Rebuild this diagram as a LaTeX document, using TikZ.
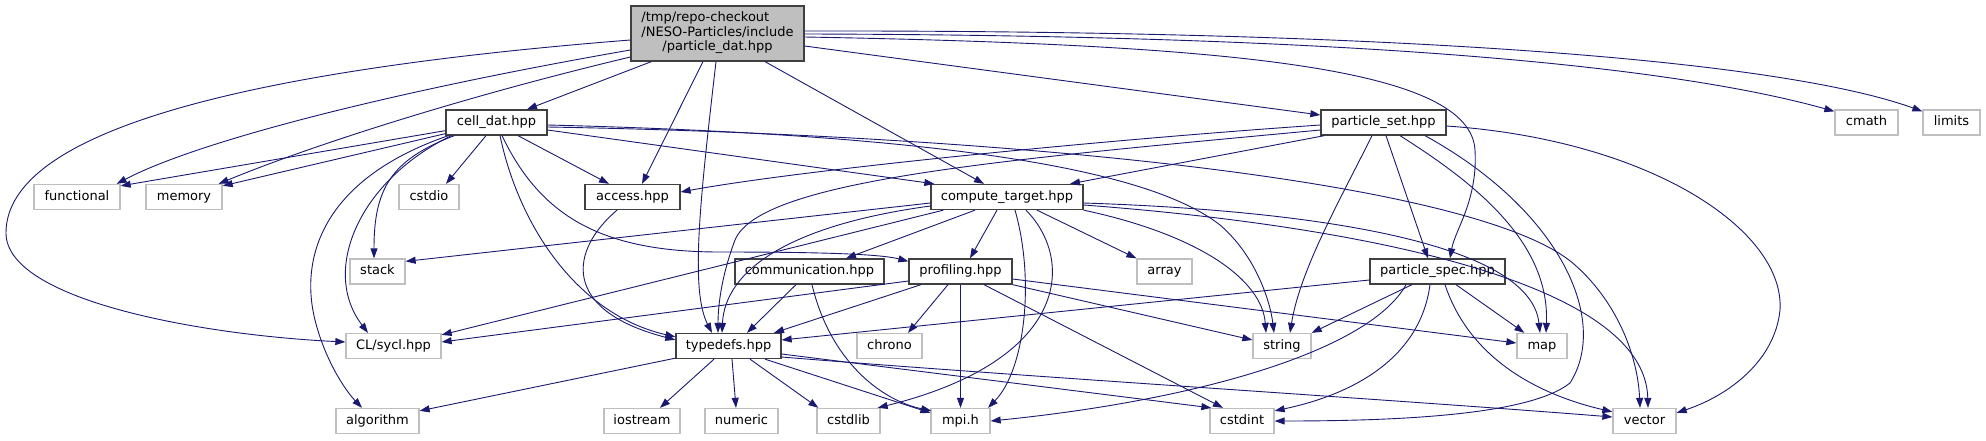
\documentclass[tikz,border=0pt]{standalone}
\usepackage{fontspec}
\setmainfont{DejaVu Sans}
\usetikzlibrary{arrows.meta,calc}
\definecolor{edgeblue}{HTML}{191970}
\definecolor{greyl}{HTML}{BFBFBF}
\definecolor{docborder}{HTML}{404040}
\begin{document}
\begin{tikzpicture}[x=1pt,y=-1pt,
  lbl/.style={inner sep=0pt,minimum height=25pt,font=\fontsize{13}{15}\selectfont,text height=9.5pt,text depth=3pt,line width=1.3pt},
  docnode/.style={lbl,draw=docborder,fill=white},
  sysnode/.style={lbl,draw=greyl,fill=white},
  rootnode/.style={inner sep=0pt,minimum width=173pt,minimum height=55pt,draw=docborder,fill=greyl,line width=1.3pt,font=\fontsize{13}{14.5}\selectfont},
  edge/.style={draw=edgeblue,line width=0.9pt,-{Triangle[length=10pt,width=7pt]}}
]
\useasboundingbox (0,0) rectangle (1986,440);
% nodes
\node[rootnode] (root) at (717.5,33.5) {\begin{tabular}{@{}l@{}}/tmp/repo-checkout\\/NESO-Particles/include\\\multicolumn{1}{@{}c@{}}{/particle\_dat.hpp}\end{tabular}};
\node[docnode,minimum width=101pt] (cell) at (496.5,122.5) {cell\_dat.hpp};
\node[docnode,minimum width=125pt] (pset) at (1383.5,122.5) {particle\_set.hpp};
\node[sysnode,minimum width=63pt] (cmath) at (1866.5,122.5) {cmath};
\node[sysnode,minimum width=57pt] (limits) at (1951.5,122.5) {limits};
\node[sysnode,minimum width=86pt] (functional) at (77,197) {functional};
\node[sysnode,minimum width=76pt] (memory) at (184,197) {memory};
\node[sysnode,minimum width=60pt] (cstdio) at (429,197) {cstdio};
\node[docnode,minimum width=95pt] (access) at (632.5,197) {access.hpp};
\node[docnode,minimum width=152pt] (ctarget) at (1007,197) {compute\_target.hpp};
\node[sysnode,minimum width=55pt] (stack) at (377.5,271.5) {stack};
\node[docnode,minimum width=149pt] (comm) at (809.5,271.5) {communication.hpp};
\node[docnode,minimum width=103pt] (prof) at (960.5,271.5) {profiling.hpp};
\node[sysnode,minimum width=55pt] (array) at (1164.5,271.5) {array};
\node[docnode,minimum width=135pt] (pspec) at (1437.5,271.5) {particle\_spec.hpp};
\node[sysnode,minimum width=95pt] (sycl) at (393.5,346) {CL/sycl.hpp};
\node[docnode,minimum width=105pt] (typedefs) at (728.5,346) {typedefs.hpp};
\node[sysnode,minimum width=65pt] (chrono) at (889.5,346) {chrono};
\node[sysnode,minimum width=58pt] (string) at (1282,346) {string};
\node[sysnode,minimum width=50pt] (map) at (1542,346) {map};
\node[sysnode,minimum width=83pt] (algorithm) at (377.5,421) {algorithm};
\node[sysnode,minimum width=76pt] (iostream) at (642,421) {iostream};
\node[sysnode,minimum width=73pt] (numeric) at (741.5,421) {numeric};
\node[sysnode,minimum width=63pt] (cstdlib) at (848.5,421) {cstdlib};
\node[sysnode,minimum width=59pt] (mpih) at (960.5,421) {mpi.h};
\node[sysnode,minimum width=64pt] (cstdint) at (1242,421) {cstdint};
\node[sysnode,minimum width=63pt] (vector) at (1644.5,421) {vector};
% root edges
\draw[edge] ($(root.west)+(0,6.5)$) .. controls (250,70) and (6,130) .. (6,233) .. controls (6,300) and (200,335) .. ($(sycl.west)+(0,-4)$);
\draw[edge] ($(root.west)+(0,16.5)$) .. controls (400,90) and (200,140) .. ($(functional.north east)+(-4,0)$);
\draw[edge] ($(root.west)+(0,23.5)$) .. controls (450,100) and (300,150) .. ($(memory.north east)+(-4,0)$);
\draw[edge] ($(root.south west)+(21,0)$) -- ($(cell.north)+(30.5,0)$);
\draw[edge] ($(root.south)+(-14.5,0)$) -- ($(access.north)+(9.5,0)$);
\draw[edge] ($(root.south)+(-1.5,0)$) .. controls (700,200) and (690,290) .. ($(typedefs.north)+(-16.5,0)$);
\draw[edge] ($(root.south)+(47.5,0)$) -- ($(ctarget.north)+(-23,0)$);
\draw[edge] ($(root.east)+(0,12.5)$) -- ($(pset.west)+(0,-7.5)$);
\draw[edge] ($(root.east)+(0,3.5)$) .. controls (1250,45) and (1470,70) .. (1475,150) .. controls (1478,200) and (1455,230) .. ($(pspec.north)+(12.5,0)$);
\draw[edge] ($(root.east)+(0,0.5)$) .. controls (1300,35) and (1650,60) .. ($(cmath.north west)+(0,2)$);
\draw[edge] ($(root.east)+(0,-2.5)$) .. controls (1400,30) and (1780,60) .. ($(limits.north west)+(0,2)$);
% cell_dat edges
\draw[edge] ($(cell.south west)+(0,-5)$) -- ($(functional.north east)+(0,2)$);
\draw[edge] ($(cell.south west)+(0,-2)$) -- ($(memory.north east)+(0,2)$);
\draw[edge] ($(cell.south)+(-10.5,0)$) -- ($(cstdio.north)+(17,0)$);
\draw[edge] ($(cell.south)+(21.5,0)$) -- ($(access.north)+(-23.5,0)$);
\draw[edge] ($(cell.east)+(0,7.5)$) -- ($(ctarget.north west)+(4,0)$);
\draw[edge] ($(cell.south)+(5.5,0)$) .. controls (540,215) and (600,252) .. (720,252) .. controls (820,252) and (880,254) .. ($(prof.north west)+(0,3)$);
\draw[edge] ($(cell.south)+(3.5,0)$) .. controls (520,230) and (580,315) .. ($(typedefs.north west)+(0,4)$);
\draw[edge] ($(cell.south west)+(9,0)$) .. controls (390,160) and (374,190) .. ($(stack.north)+(-3.5,0)$);
\draw[edge] ($(cell.south west)+(6,0)$) .. controls (360,180) and (320,270) .. ($(sycl.north)+(-25.5,0)$);
\draw[edge] ($(cell.south west)+(3,0)$) .. controls (320,180) and (300,260) .. (315,320) .. controls (325,360) and (345,390) .. ($(algorithm.north)+(-15.5,0)$);
\draw[edge] ($(cell.east)+(0,2.5)$) .. controls (950,135) and (1150,170) .. (1220,225) .. controls (1255,255) and (1270,300) .. ($(string.north)+(-8,0)$);
\draw[edge] ($(cell.east)+(0,4.5)$) .. controls (1000,135) and (1480,180) .. (1575,265) .. controls (1620,305) and (1638,360) .. ($(vector.north)+(-4.5,0)$);
% access
\draw[edge] ($(access.south)+(-15.5,0)$) .. controls (570,250) and (560,310) .. ($(typedefs.north west)+(0,7)$);
% particle_set edges
\draw[edge] ($(pset.west)+(0,2.5)$) .. controls (1100,140) and (800,170) .. ($(access.east)+(0,-5)$);
\draw[edge] ($(pset.west)+(0,7.5)$) .. controls (1000,160) and (760,180) .. (735,240) .. controls (720,280) and (718,310) .. ($(typedefs.north)+(-10.5,0)$);
\draw[edge] ($(pset.south west)+(4,0)$) -- ($(ctarget.north)+(63,0)$);
\draw[edge] ($(pset.south)+(2.5,0)$) -- ($(pspec.north)+(-9.5,0)$);
\draw[edge] ($(pset.south)+(-11.5,0)$) .. controls (1340,200) and (1300,270) .. ($(string.north)+(8,0)$);
\draw[edge] ($(pset.south)+(16.5,0)$) .. controls (1470,180) and (1550,240) .. ($(map.north)+(4,0)$);
\draw[edge] ($(pset.south)+(41.5,0)$) .. controls (1560,210) and (1610,320) .. (1570,383) .. controls (1530,415) and (1400,421) .. (cstdint.east);
\draw[edge] ($(pset.east)+(0,3.5)$) .. controls (1650,140) and (1785,230) .. (1780,310) .. controls (1775,360) and (1730,395) .. ($(vector.north east)+(0,5)$);
% compute_target edges
\draw[edge] ($(ctarget.west)+(0,6)$) -- ($(stack.north east)+(0,3)$);
\draw[edge] ($(ctarget.south west)+(13,0)$) -- ($(sycl.north east)+(0,2)$);
\draw[edge] ($(ctarget.west)+(0,9)$) .. controls (790,225) and (725,270) .. ($(typedefs.north)+(-6.5,0)$);
\draw[edge] ($(ctarget.south)+(-32,0)$) -- ($(comm.north)+(36.5,0)$);
\draw[edge] ($(ctarget.south)+(-10,0)$) -- ($(prof.north)+(9.5,0)$);
\draw[edge] ($(ctarget.south)+(8,0)$) .. controls (1035,280) and (1025,370) .. ($(mpih.north)+(27.5,0)$);
\draw[edge] ($(ctarget.south)+(19,0)$) .. controls (1075,260) and (1070,360) .. ($(cstdlib.north east)+(-3,0)$);
\draw[edge] ($(ctarget.south)+(30,0)$) -- (array.north west);
\draw[edge] (ctarget.south east) .. controls (1200,235) and (1262,280) .. ($(string.north)+(-16,0)$);
\draw[edge] ($(ctarget.east)+(0,6)$) .. controls (1300,210) and (1530,240) .. ($(map.north)+(-2,0)$);
\draw[edge] ($(ctarget.east)+(0,8)$) .. controls (1350,225) and (1645,280) .. ($(vector.north)+(3.5,0)$);
% communication edges
\draw[edge] ($(comm.south)+(-13.5,0)$) -- ($(typedefs.north)+(18.5,0)$);
\draw[edge] ($(comm.south)+(2.5,0)$) .. controls (830,360) and (880,400) .. ($(mpih.north west)+(1,3)$);
% profiling edges
\draw[edge] ($(prof.west)+(0,9.5)$) -- ($(sycl.east)+(0,-4)$);
\draw[edge] ($(prof.south)+(-39.5,0)$) -- ($(typedefs.north)+(45.5,0)$);
\draw[edge] ($(prof.south)+(-12.5,0)$) -- ($(chrono.north)+(18.5,0)$);
\draw[edge] (prof.south) -- (mpih.north);
\draw[edge] (prof.south east) -- ($(string.west)+(0,-6)$);
\draw[edge] ($(prof.east)+(0,7.5)$) -- ($(map.west)+(0,-3)$);
\draw[edge] ($(prof.south)+(23.5,0)$) -- ($(cstdint.north)+(-19,0)$);
% typedefs edges
\draw[edge] ($(typedefs.south west)+(0,-1)$) -- ($(algorithm.north east)+(0,3)$);
\draw[edge] ($(typedefs.south)+(-14.5,0)$) -- ($(iostream.north)+(18,0)$);
\draw[edge] ($(typedefs.south)+(3.5,0)$) -- ($(numeric.north)+(-5.5,0)$);
\draw[edge] ($(typedefs.south)+(21.5,0)$) -- ($(cstdlib.north west)+(2,0)$);
\draw[edge] ($(typedefs.south)+(36.5,0)$) -- ($(mpih.north west)+(0,5)$);
\draw[edge] ($(typedefs.east)+(0,8)$) -- ($(cstdint.north west)+(2,0)$);
\draw[edge] ($(typedefs.east)+(0,11)$) .. controls (1000,375) and (1400,400) .. ($(vector.west)+(0,-4)$);
% particle_spec edges
\draw[edge] ($(pspec.west)+(0,8.5)$) -- ($(typedefs.east)+(0,-6)$);
\draw[edge] ($(pspec.south)+(-25.5,0)$) -- (string.north east);
\draw[edge] ($(pspec.south)+(-31.5,0)$) .. controls (1370,350) and (1200,400) .. (mpih.east);
\draw[edge] ($(pspec.south)+(-7.5,0)$) .. controls (1420,360) and (1350,395) .. ($(cstdint.north east)+(0,3)$);
\draw[edge] ($(pspec.south)+(18.5,0)$) -- ($(map.north west)+(8,0)$);
\draw[edge] ($(pspec.south)+(7.5,0)$) .. controls (1470,360) and (1540,395) .. ($(vector.north west)+(0,4)$);
\end{tikzpicture}
\end{document}
